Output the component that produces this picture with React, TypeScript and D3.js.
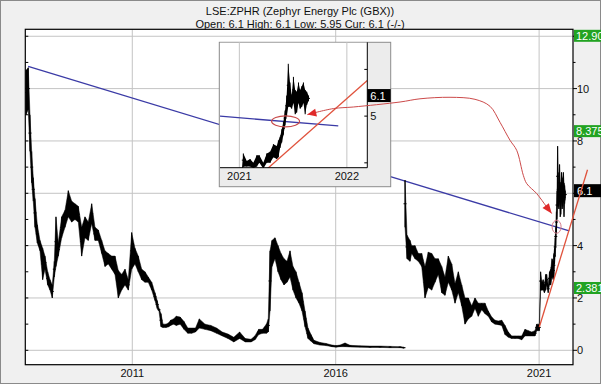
import React from 'react';
import * as d3 from 'd3';

// ---------- DATA ----------
// Segment 1 (2008 - mid 2017): decimal year, period low, period high (GBX)
const seg1Year = [2008.387, 2008.443, 2008.485, 2008.527, 2008.566, 2008.608, 2008.665, 2008.731, 2008.797, 2008.854, 2008.920, 2008.977, 2009.033, 2009.083, 2009.124, 2009.181, 2009.264, 2009.346, 2009.427, 2009.510, 2009.591, 2009.673, 2009.756, 2009.837, 2009.918, 2010.002, 2010.083, 2010.164, 2010.248, 2010.329, 2010.410, 2010.494, 2010.575, 2010.656, 2010.739, 2010.821, 2010.902, 2010.985, 2011.066, 2011.147, 2011.231, 2011.312, 2011.393, 2011.477, 2011.558, 2011.612, 2011.656, 2011.706, 2011.755, 2011.828, 2011.895, 2011.942, 2012.013, 2012.082, 2012.177, 2012.271, 2012.364, 2012.460, 2012.554, 2012.647, 2012.787, 2012.930, 2013.072, 2013.212, 2013.353, 2013.495, 2013.638, 2013.778, 2013.918, 2014.014, 2014.107, 2014.201, 2014.296, 2014.343, 2014.385, 2014.434, 2014.508, 2014.582, 2014.655, 2014.729, 2014.803, 2014.877, 2014.950, 2015.024, 2015.098, 2015.172, 2015.246, 2015.319, 2015.393, 2015.467, 2015.614, 2015.762, 2015.909, 2016.007, 2016.106, 2016.229, 2016.352, 2016.598, 2016.844, 2017.090, 2017.336, 2017.582, 2017.679];
const seg1Low = [9.0, 9.2, 7.6, 6.4, 5.7, 4.7, 4.1, 3.8, 2.7, 3.1, 2.5, 2.3, 2.0, 2.8, 3.2, 3.6, 4.3, 4.7, 5.1, 4.9, 5.0, 4.9, 3.6, 4.3, 4.2, 4.85, 4.2, 4.2, 3.7, 3.2, 3.3, 3.1, 2.9, 2.0, 2.3, 2.5, 2.3, 3.1, 3.3, 3.0, 2.7, 2.6, 2.6, 2.3, 1.9, 1.6, 1.5, 0.9, 0.87, 0.87, 0.9, 0.95, 1.0, 0.95, 1.0, 0.8, 0.65, 0.65, 0.7, 0.85, 0.8, 0.75, 0.65, 0.55, 0.45, 0.32, 0.45, 0.32, 0.32, 0.4, 0.6, 0.65, 0.65, 0.7, 1.5, 3.2, 3.5, 3.0, 2.7, 2.5, 2.6, 2.8, 2.3, 2.0, 1.8, 1.5, 0.9, 0.45, 0.35, 0.25, 0.2, 0.18, 0.14, 0.12, 0.14, 0.14, 0.13, 0.12, 0.11, 0.11, 0.1, 0.1, 0.08];
const seg1High = [10.7, 10.8, 9.0, 7.6, 6.6, 5.8, 4.8, 4.2, 3.9, 3.6, 3.0, 2.7, 2.5, 3.4, 5.1, 4.1, 5.1, 5.35, 6.1, 5.7, 5.6, 5.5, 4.7, 5.1, 4.9, 5.6, 4.7, 4.6, 4.2, 3.8, 3.7, 3.6, 3.6, 3.05, 2.9, 3.1, 2.7, 4.5, 3.9, 3.6, 3.1, 3.0, 2.8, 2.6, 2.2, 1.9, 1.6, 1.4, 1.0, 1.0, 1.05, 1.15, 1.2, 1.3, 1.27, 1.1, 0.85, 0.85, 0.85, 1.2, 1.0, 0.95, 0.85, 0.7, 0.62, 0.5, 0.7, 0.45, 0.42, 0.55, 0.8, 0.8, 1.0, 1.2, 3.8, 4.2, 4.3, 4.0, 3.7, 3.5, 3.4, 3.8, 3.2, 3.0, 2.6, 2.2, 1.5, 0.85, 0.6, 0.38, 0.3, 0.26, 0.2, 0.18, 0.2, 0.28, 0.19, 0.17, 0.16, 0.16, 0.15, 0.14, 0.12];

// Segment 2 (late 2017 - 2021)
const seg2Year = [2017.704, 2017.753, 2017.827, 2017.868, 2017.949, 2018.031, 2018.114, 2018.195, 2018.276, 2018.360, 2018.441, 2018.522, 2018.606, 2018.687, 2018.768, 2018.852, 2018.933, 2019.014, 2019.097, 2019.178, 2019.260, 2019.343, 2019.424, 2019.505, 2019.589, 2019.670, 2019.751, 2019.835, 2019.916, 2019.997, 2020.081, 2020.162, 2020.243, 2020.326, 2020.408, 2020.489, 2020.572, 2020.653, 2020.735, 2020.818, 2020.899, 2020.941, 2021.005, 2021.037, 2021.069, 2021.100, 2021.130, 2021.162, 2021.186, 2021.223, 2021.255, 2021.286, 2021.317, 2021.348, 2021.363, 2021.379, 2021.395, 2021.410, 2021.425, 2021.440, 2021.455, 2021.471, 2021.487, 2021.503, 2021.519, 2021.534, 2021.550, 2021.565, 2021.581, 2021.596, 2021.612, 2021.627, 2021.643];
const seg2Low = [4.7, 3.5, 3.4, 3.7, 3.5, 3.4, 3.2, 2.0, 2.4, 2.3, 2.6, 2.9, 2.2, 2.1, 2.6, 2.3, 1.8, 2.2, 1.7, 1.0, 1.2, 1.3, 1.6, 1.3, 1.55, 1.4, 1.3, 1.08, 1.0, 0.98, 0.95, 0.6, 0.5, 0.45, 0.45, 0.45, 0.4, 0.55, 0.55, 0.55, 0.55, 0.75, 0.75, 2.29, 2.3, 2.3, 2.2, 2.3, 2.5, 2.2, 2.5, 2.5, 2.8, 2.7, 2.8, 3.3, 3.6, 4.0, 4.5, 5.0, 5.5, 5.5, 5.4, 5.7, 5.1, 5.2, 5.7, 5.4, 5.5, 5.7, 5.1, 5.6, 5.8];
const seg2High = [6.5, 4.4, 4.2, 4.0, 4.0, 3.7, 3.7, 3.2, 3.75, 3.7, 3.5, 3.5, 3.2, 2.8, 3.6, 3.3, 2.55, 3.0, 2.5, 2.0, 2.0, 1.7, 2.0, 1.8, 1.8, 1.8, 1.5, 1.27, 1.15, 1.12, 1.15, 0.95, 0.7, 0.55, 0.55, 0.55, 0.55, 0.8, 0.75, 0.7, 0.75, 1.0, 1.0, 3.0, 2.6, 2.7, 2.5, 2.9, 2.9, 2.5, 3.0, 3.1, 3.5, 3.4, 3.7, 3.9, 4.3, 4.7, 5.3, 6.1, 7.8, 6.8, 6.1, 7.1, 6.4, 6.3, 6.8, 6.4, 6.6, 6.8, 6.4, 6.3, 6.1];

const yearTicks = [2011, 2016, 2021];
const priceGrid = [0, 2, 4, 6, 8, 10, 12];
const priceMinor = [1, 3, 5, 7, 9, 11];
const priceLabels = [0, 2, 4, 8, 10];
const levelValues = [12.9, 8.375, 2.381];
const levelLabels = ['12.90', '8.375', '2.381'];
const currentPrice = 6.1;
const currentLabel = '6.1';

const insetYearTicks = [2021, 2022];
const insetPriceTicks = [2.5, 5, 7.5];
const insetPriceLabels = [5];

// Trend lines (decimal year, price)
const blueTrendYear = [2008.44, 2021.74];
const blueTrendPrice = [10.85, 4.56];
const insetBlueYear = [2020.82, 2021.92];
const redTrendYear = [2021.005, 2022.19];
const redTrendPrice = [0.89, 6.9];
const ringYear = 2021.43;
const ringPrice = 4.72;

// Annotation arrow path (main chart coordinates)
const arrowYear = [2015.302, 2015.941, 2016.433, 2017.581, 2018.072, 2018.81, 2019.424, 2019.793, 2020.039, 2020.285, 2020.449, 2020.612, 2020.695, 2020.941, 2021.187, 2021.31];
const arrowPrice = [9.006, 9.236, 9.297, 9.488, 9.61, 9.668, 9.591, 9.324, 8.712, 8.025, 7.642, 6.687, 6.37, 5.988, 5.476, 5.224];

const title = 'LSE:ZPHR (Zephyr Energy Plc (GBX))';
const subtitle = 'Open: 6.1 High: 6.1 Low: 5.95 Cur: 6.1 (-/-)';

// ---------- LAYOUT ----------
const W = 601, H = 384;
const P = { l: 25.3, r: 573, t: 29.3, b: 364.7 };
const I = { l: 220, r: 367.3, t: 42.3, b: 167.7, boxL: 219.3, boxR: 390.7, boxB: 186.7 };
const FONT = '"Liberation Sans", Arial, sans-serif';

function arrowHead(p1: [number, number], p2: [number, number], len: number, half: number) {
  const dx = p2[0] - p1[0], dy = p2[1] - p1[1];
  const d = Math.hypot(dx, dy) || 1;
  const ux = dx / d, uy = dy / d;
  const bx = p2[0] - ux * len, by = p2[1] - uy * len;
  return `M${p2[0]},${p2[1]}L${bx - uy * half},${by + ux * half}L${bx + uy * half},${by - ux * half}Z`;
}

export default function App() {
  const x = d3.scaleLinear().domain([2008.37, 2021.833]).range([P.l, P.r]);
  const y = d3.scaleLinear().domain([-0.55, 12.266]).range([P.b, P.t]);
  const ix = d3.scaleLinear().domain([2020.82, 2022.19]).range([I.l, I.r]);
  const iy = d3.scaleLinear().domain([2.24, 8.95]).range([I.b, I.t]);

  const mkArea = (xs: d3.ScaleLinear<number, number>, ys: d3.ScaleLinear<number, number>, yr: number[], lo: number[], hi: number[]) =>
    d3.area<number>().x(i => xs(yr[i])).y0(i => ys(lo[i])).y1(i => ys(hi[i]))(d3.range(yr.length)) || '';

  const segs = [
    { yr: seg1Year, lo: seg1Low, hi: seg1High },
    { yr: seg2Year, lo: seg2Low, hi: seg2High },
  ];

  const line = d3.line<[number, number]>();
  const arrowPts: [number, number][] = arrowYear.map((t, i) => [x(t), y(arrowPrice[i])]);
  const arrowPath = d3.line<[number, number]>().curve(d3.curveCatmullRom)(arrowPts) || '';
  const n = arrowPts.length;

  const blueAt = (t: number) => blueTrendPrice[0] + (t - blueTrendYear[0]) * (blueTrendPrice[1] - blueTrendPrice[0]) / (blueTrendYear[1] - blueTrendYear[0]);

  const levelY = (v: number) => Math.max(y(v), P.t + 6.5);

  const bars = (xs: d3.ScaleLinear<number, number>, ys: d3.ScaleLinear<number, number>, s: { yr: number[]; lo: number[]; hi: number[] }) =>
    s.yr.map((t, i) => {
      const cx = xs(t);
      const mid = (s.lo[i] + s.hi[i]) / 2;
      return (
        <g key={i}>
          <line x1={cx} x2={cx} y1={ys(s.lo[i])} y2={ys(s.hi[i])} stroke="#000" strokeWidth={1} />
          <line x1={cx - 1.5} x2={cx + 1.5} y1={ys(mid)} y2={ys(mid)} stroke="#000" strokeWidth={1} />
        </g>
      );
    });

  return (
    <svg width={W} height={H} style={{ position: 'absolute', left: 0, top: 0 }} fontFamily={FONT}>
      <defs>
        <clipPath id="mainClip"><rect x={P.l} y={P.t} width={P.r - P.l} height={P.b - P.t} /></clipPath>
        <clipPath id="insetClip"><rect x={I.l} y={I.t} width={I.r - I.l} height={I.b - I.t} /></clipPath>
      </defs>
      <rect x={0.5} y={0.5} width={W - 1} height={H - 1} fill="#f0f0f0" stroke="#8a8a8a" />
      <text x={300} y={15} textAnchor="middle" fontSize={11} fill="#111">{title}</text>
      <text x={300} y={28} textAnchor="middle" fontSize={11} fill="#111">{subtitle}</text>

      <rect x={P.l} y={P.t} width={P.r - P.l} height={P.b - P.t} fill="#fff" />
      {priceGrid.map(v => (
        <line key={'g' + v} x1={P.l} x2={P.r} y1={y(v)} y2={y(v)} stroke="#c4c4c4" />
      ))}
      {yearTicks.map(t => (
        <line key={'v' + t} x1={x(t)} x2={x(t)} y1={P.t} y2={P.b} stroke="#c4c4c4" />
      ))}
      {[...priceGrid, ...priceMinor].map(v => (
        <line key={'lt' + v} x1={P.l} x2={P.l + 3} y1={y(v)} y2={y(v)} stroke="#000" />
      ))}

      <g clipPath="url(#mainClip)">
        <path d={line(blueTrendYear.map((t, i) => [x(t), y(blueTrendPrice[i])]) as [number, number][]) || ''} stroke="#3b3ba6" strokeWidth={1.3} fill="none" />
        {segs.map((s, k) => (
          <g key={'s' + k}>
            <path d={mkArea(x, y, s.yr, s.lo, s.hi)} fill="#000" stroke="#000" strokeWidth={0.5} />
            {bars(x, y, s)}
          </g>
        ))}
      </g>
      <ellipse cx={x(ringYear)} cy={y(ringPrice)} rx={4.5} ry={6.5} fill="none" stroke="#d57a8a" strokeWidth={1} />

      {/* plot border */}
      <rect x={P.l} y={P.t} width={P.r - P.l} height={P.b - P.t} fill="none" stroke="#000" strokeWidth={1.2} />

      {/* right axis */}
      {[...priceGrid, ...priceMinor].map(v => (
        <line key={'rt' + v} x1={P.r} x2={P.r + (v % 2 === 0 ? 4 : 2.5)} y1={y(v)} y2={y(v)} stroke="#000" />
      ))}
      {priceLabels.map(v => (
        <text key={'rl' + v} x={P.r + 4} y={y(v)} dy="0.36em" fontSize={11} fill="#111">{v}</text>
      ))}
      {yearTicks.map(t => (
        <text key={'xl' + t} x={x(t)} y={377} textAnchor="middle" fontSize={11} fill="#111">{t}</text>
      ))}
      {levelValues.map((v, i) => (
        <g key={'lv' + i}>
          <rect x={P.r + 1} y={levelY(v) - 6} width={W - P.r} height={12} fill="#22a322" />
          <text x={P.r + 3} y={levelY(v)} dy="0.36em" fontSize={11} fill="#fff">{levelLabels[i]}</text>
        </g>
      ))}
      <rect x={P.r + 1} y={y(currentPrice) - 6.5} width={W - P.r} height={13} fill="#000" />
      <text x={P.r + 4} y={y(currentPrice)} dy="0.36em" fontSize={11} fill="#fff">{currentLabel}</text>

      {/* inset */}
      <rect x={I.boxL} y={I.t} width={I.boxR - I.boxL} height={I.boxB - I.t} fill="#ececec" stroke="#8c8c8c" strokeWidth={1} />
      <rect x={I.l} y={I.t + 0.5} width={I.r - I.l} height={I.b - I.t - 0.5} fill="#fff" />
      {insetYearTicks.map(t => (
        <line key={'iv' + t} x1={ix(t)} x2={ix(t)} y1={I.t} y2={I.b} stroke="#c4c4c4" />
      ))}
      <g clipPath="url(#insetClip)">
        <path d={line(insetBlueYear.map(t => [ix(t), iy(blueAt(t))]) as [number, number][]) || ''} stroke="#3b3ba6" strokeWidth={1.3} fill="none" />
        {segs.map((s, k) => (
          <g key={'is' + k}>
            <path d={mkArea(ix, iy, s.yr, s.lo, s.hi)} fill="#000" stroke="none" />
            {bars(ix, iy, s)}
          </g>
        ))}
        <path d={line(redTrendYear.map((t, i) => [ix(t), iy(redTrendPrice[i])]) as [number, number][]) || ''} stroke="#e0523c" strokeWidth={1.3} fill="none" />
      </g>
      <ellipse cx={ix(ringYear)} cy={iy(ringPrice)} rx={14} ry={5.5} fill="none" stroke="#c84a4a" strokeWidth={1.2} />
      <line x1={I.l} x2={I.r} y1={I.b} y2={I.b} stroke="#000" />
      <line x1={I.r} x2={I.r} y1={I.t} y2={I.b} stroke="#000" />
      {insetPriceTicks.map(v => (
        <line key={'it' + v} x1={I.r - 3} x2={I.r} y1={iy(v)} y2={iy(v)} stroke="#000" />
      ))}
      {insetPriceLabels.map(v => (
        <text key={'il' + v} x={I.r + 3} y={iy(v)} dy="0.36em" fontSize={11} fill="#111">{v}</text>
      ))}
      {insetYearTicks.map(t => (
        <text key={'ixl' + t} x={ix(t)} y={180} textAnchor="middle" fontSize={11} fill="#111">{t}</text>
      ))}
      <rect x={I.r} y={iy(currentPrice) - 6.5} width={I.boxR - I.r} height={13} fill="#000" />
      <text x={I.r + 3} y={iy(currentPrice)} dy="0.36em" fontSize={11} fill="#fff">{currentLabel}</text>

      {/* main red trend line (extends past plot edge) */}
      <path d={line(redTrendYear.map((t, i) => [x(t), y(redTrendPrice[i])]) as [number, number][]) || ''} stroke="#e0523c" strokeWidth={1.3} fill="none" />

      {/* annotation arrow */}
      <path d={arrowPath} fill="none" stroke="#cc4a4a" strokeWidth={1} />
      <path d={arrowHead(arrowPts[1], arrowPts[0], 9, 4)} fill="#e02a2a" />
      <path d={arrowHead(arrowPts[n - 2], arrowPts[n - 1], 10, 4)} fill="#e02a2a" />
    </svg>
  );
}
